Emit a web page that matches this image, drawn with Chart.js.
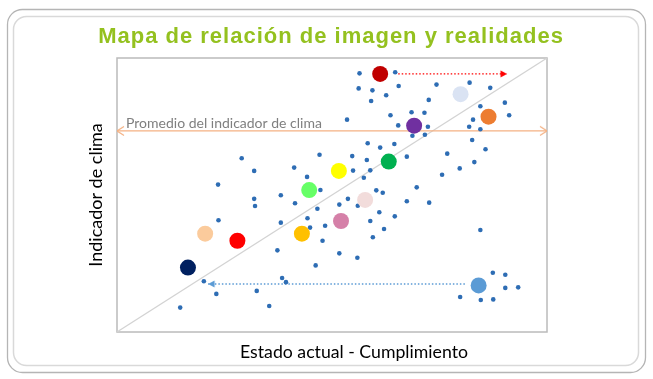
<!DOCTYPE html>
<html>
<head>
<meta charset="utf-8">
<script src="https://cdn.jsdelivr.net/npm/chart.js@4/dist/chart.umd.min.js"></script>
<style>
html, body { margin: 0; padding: 0; background: #fff; }
</style>
</head>
<body>
<canvas id="chart" width="653" height="379"></canvas>
<script>
// small blue points: Estado actual (x) / Indicador de clima (y), 0-100
const smallX = [29.0, 31.9, 41.2, 47.1, 44.2, 23.5, 31.9, 38.1, 47.3, 56.4,
  64.7, 56.2, 59.4, 65.5, 62.6, 59.1, 74.3, 82.0, 86.8, 72.5,
  90.2, 84.5, 91.2, 82.8, 81.9, 84.5, 53.5, 63.6, 68.5, 71.5,
  65.4, 72.3, 68.7, 71.6, 82.6, 85.7, 58.3, 61.2, 64.5, 54.7,
  58.1, 67.4, 76.8, 83.1, 79.7, 75.6, 54.9, 58.9, 57.4, 69.7,
  60.3, 61.8, 53.7, 41.4, 32.1, 23.6, 38.1, 44.3, 46.6, 48.4,
  44.9, 47.8, 37.3, 46.2, 20.2, 38.4, 39.3, 32.5, 23.1, 14.7,
  35.4, 51.7, 56.0, 67.4, 72.6, 58.9, 61.0, 64.6, 62.1, 59.5,
  51.7, 55.9, 84.5, 87.4, 90.3, 90.3, 93.3, 79.8, 84.6, 87.5];
const smallY = [63.4, 58.8, 60.0, 64.7, 56.6, 53.8, 48.6, 49.9, 51.8, 94.4,
  94.8, 88.9, 88.2, 89.8, 86.4, 84.3, 90.3, 91.0, 89.1, 84.7,
  83.7, 82.4, 79.1, 77.5, 74.9, 74.0, 77.5, 79.1, 80.2, 80.0,
  75.4, 74.9, 71.6, 72.0, 70.1, 66.7, 68.9, 67.3, 68.6, 64.2,
  62.8, 64.0, 65.1, 62.0, 59.7, 57.4, 58.9, 59.0, 56.3, 52.8,
  51.7, 50.8, 48.6, 47.0, 46.0, 40.8, 39.9, 41.5, 45.0, 38.8,
  38.1, 33.3, 29.8, 24.3, 18.5, 19.7, 18.2, 15.0, 13.9, 8.9,
  9.5, 46.5, 46.1, 47.7, 47.2, 40.5, 43.7, 42.2, 37.6, 34.6,
  28.7, 27.1, 37.2, 21.6, 20.9, 16.1, 16.3, 12.8, 11.7, 11.9];

// big coloured points
const bigX = [61.2, 79.9, 86.4, 69.1, 63.2, 51.6, 44.7, 57.7, 52.1, 43.0, 20.5, 28.0, 16.5, 84.1];
const bigY = [94.2, 86.8, 78.6, 75.3, 62.2, 58.8, 51.8, 48.2, 40.5, 35.9, 35.9, 33.3, 23.5, 17.0];
const bigColors = ['#C00000', '#DAE3F3', '#ED7D31', '#7030A0', '#00B050', '#FFFF00', '#66FF66',
  '#F2DCDB', '#D580A8', '#FFC000', '#FBCB9C', '#FF0000', '#002060', '#5B9BD5'];

const avgClima = 73.4;
const redArrowX = [65.4, 90.7];
const redArrowY = 94.2;
const blueArrowX = [80.9, 21.2];
const blueArrowY = 17.5;

function makeHead(open, color) {
  const c = document.createElement('canvas');
  c.width = 20; c.height = 12;
  const g = c.getContext('2d');
  g.beginPath();
  if (open) {
    g.strokeStyle = color; g.lineWidth = 1.3;
    g.moveTo(17, 1.5); g.lineTo(10, 6); g.lineTo(17, 10.5);
    g.stroke();
  } else {
    g.fillStyle = color;
    g.moveTo(10, 6); g.lineTo(3.5, 2.5); g.lineTo(3.5, 9.5);
    g.closePath(); g.fill();
  }
  return c;
}
const orangeHead = makeHead(true, '#F4B183');
const redHead = makeHead(false, '#FF0000');
const blueHead = makeHead(false, '#5B9BD5');

const framePlugin = {
  id: 'frame',
  beforeDraw(chart) {
    const ctx = chart.ctx;
    ctx.save();
    ctx.strokeStyle = '#B5B5B5';
    ctx.lineWidth = 1.3;
    ctx.beginPath();
    ctx.roundRect(7.5, 9.5, 638, 363, 15);
    ctx.stroke();
    ctx.strokeStyle = '#D9D9D9';
    ctx.lineWidth = 1.5;
    ctx.beginPath();
    ctx.roundRect(13.5, 16.5, 625, 349, 13);
    ctx.stroke();
    ctx.restore();
  },
  beforeDatasetsDraw(chart) {
    const {ctx, chartArea: a} = chart;
    ctx.save();
    ctx.strokeStyle = '#BBBBBB';
    ctx.lineWidth = 1.5;
    ctx.strokeRect(a.left, a.top, a.right - a.left, a.bottom - a.top);
    ctx.restore();
  },
  afterDraw(chart) {
    const {ctx, chartArea: a, scales} = chart;
    ctx.save();
    ctx.font = 'bold 22px "Liberation Sans", Arial, sans-serif';
    ctx.letterSpacing = '1px';
    ctx.fillStyle = '#94C11F';
    ctx.textAlign = 'center';
    ctx.textBaseline = 'alphabetic';
    ctx.fillText('Mapa de relación de imagen y realidades', 331, 43);
    ctx.letterSpacing = '0px';
    ctx.font = '17.7px Lato, sans-serif';
    ctx.fillStyle = '#000';
    ctx.fillText('Estado actual - Cumplimiento', 354, 358);
    ctx.font = '14px Lato, sans-serif';
    ctx.fillStyle = '#7F7F7F';
    ctx.textAlign = 'left';
    ctx.fillText('Promedio del indicador de clima', a.left + 9, scales.y.getPixelForValue(avgClima) - 3);
    ctx.restore();
  }
};

new Chart(document.getElementById('chart'), {
  type: 'scatter',
  data: {
    datasets: [
      {
        label: 'big',
        data: bigX.map((x, i) => ({x: x, y: bigY[i]})),
        backgroundColor: bigColors,
        borderWidth: 0,
        pointRadius: 8,
        order: 0
      },
      {
        label: 'small',
        data: smallX.map((x, i) => ({x: x, y: smallY[i]})),
        backgroundColor: '#2E6DB4',
        borderWidth: 0,
        pointRadius: 2.3,
        order: 1
      },
      {
        type: 'line',
        label: 'red arrow',
        data: redArrowX.map(x => ({x: x, y: redArrowY})),
        borderColor: '#FF0000',
        borderWidth: 1.4,
        borderDash: [1.5, 2],
        pointStyle: [false, redHead],
        pointRotation: [0, 0],
        order: 2
      },
      {
        type: 'line',
        label: 'blue arrow',
        data: blueArrowX.map(x => ({x: x, y: blueArrowY})),
        borderColor: '#5B9BD5',
        borderWidth: 1.4,
        borderDash: [1.5, 2],
        pointStyle: [false, blueHead],
        pointRotation: [0, 180],
        order: 2
      },
      {
        type: 'line',
        label: 'promedio',
        data: [{x: 0, y: avgClima}, {x: 100, y: avgClima}],
        borderColor: '#F4B183',
        borderWidth: 1.2,
        pointStyle: orangeHead,
        pointRotation: [0, 180],
        order: 3
      },
      {
        type: 'line',
        label: 'diagonal',
        data: [{x: 0, y: 0}, {x: 100, y: 100}],
        borderColor: '#D3D3D3',
        borderWidth: 1.2,
        pointRadius: 0,
        order: 4
      }
    ]
  },
  options: {
    responsive: false,
    animation: false,
    events: [],
    layout: { padding: { left: 83.7, right: 106, top: 58, bottom: 47 } },
    scales: {
      x: {
        type: 'linear', min: 0, max: 100,
        grid: { display: false, drawTicks: false },
        border: { display: false },
        ticks: { display: false }
      },
      y: {
        type: 'linear', min: 0, max: 100,
        grid: { display: false, drawTicks: false },
        border: { display: false },
        ticks: { display: false },
        title: {
          display: true, text: 'Indicador de clima', color: '#000',
          font: { family: 'Lato, sans-serif', size: 18 },
          padding: { top: 2, bottom: 9.7 }
        }
      }
    },
    plugins: {
      legend: { display: false },
      tooltip: { enabled: false }
    }
  },
  plugins: [framePlugin]
});
</script>
</body>
</html>
